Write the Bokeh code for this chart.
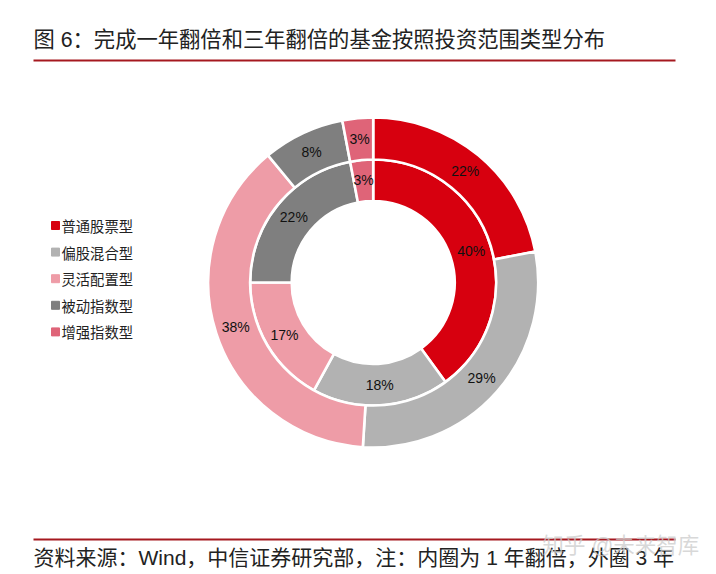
import math
from bokeh.plotting import figure
from bokeh.models import ColumnDataSource, Range1d
from bokeh.core.properties import value
from bokeh.embed import file_html
from bokeh.resources import INLINE

title = "图 6：完成一年翻倍和三年翻倍的基金按照投资范围类型分布"
note = "资料来源：Wind，中信证券研究部，注：内圈为 1 年翻倍，外圈 3 年"
watermark = "知乎 @未来智库"
categories = ["普通股票型", "偏股混合型", "灵活配置型", "被动指数型", "增强指数型"]
inner_values = [40, 18, 17, 22, 3]
outer_values = [22, 29, 38, 8, 3]
colors = ["#D7000F", "#B2B2B2", "#EE9CA7", "#7F7F7F", "#DF6478"]

W, H = 716, 574
CJK = "Liberation Sans, 'Noto Sans CJK SC'"
CX, CY = 372.7, H - 282

def ring_source(values, label_r):
    total = sum(values)
    starts, ends, lx, ly, labels = [], [], [], [], []
    cum = 0
    for v in values:
        a0 = math.pi / 2 - 2 * math.pi * cum / total
        a1 = math.pi / 2 - 2 * math.pi * (cum + v) / total
        mid = (a0 + a1) / 2
        starts.append(a0)
        ends.append(a1)
        lx.append(CX + label_r * math.cos(mid))
        ly.append(CY + label_r * math.sin(mid))
        labels.append("%d%%" % v)
        cum += v
    return ColumnDataSource(data=dict(start=starts, end=ends, lx=lx, ly=ly, label=labels, color=colors))

p = figure(width=W, height=H, output_backend="svg", toolbar_location=None,
           x_range=Range1d(0, W), y_range=Range1d(0, H), min_border=0)
p.axis.visible = False
p.grid.visible = False
p.outline_line_color = None
p.background_fill_color = "white"

inner = ring_source(inner_values, 103)
outer = ring_source(outer_values, 144.5)

for src, r0, r1 in [(inner, 81.5, 123), (outer, 123, 165)]:
    p.annular_wedge(x=CX, y=CY, inner_radius=r0, outer_radius=r1,
                    start_angle="end", end_angle="start", fill_color="color",
                    line_color="white", line_width=2.6, source=src)
    p.text(x="lx", y="ly", text="label", source=src, text_align="center", text_baseline="middle",
           text_font=value("Liberation Sans"), text_font_size="14px", text_color="#111111")

# title and footer rules
for y in [60, 539]:
    p.line(x=[33, 675], y=[H - y, H - y], line_color="#A5191F", line_width=2)

p.text(x=[33], y=[H - 39], text=[title], text_baseline="middle", text_font=value(CJK),
       text_font_size="21.3px", text_color="#222222")
p.text(x=[33], y=[H - 557], text=[note], text_baseline="middle", text_font=value(CJK),
       text_font_size="21px", text_color="#222222")

# legend
legend_y = [H - (225 + 26.6 * i) for i in range(len(categories))]
p.scatter(x=[55] * len(categories), y=legend_y, marker="square", size=8, color=colors)
p.text(x=[61] * len(categories), y=legend_y, text=categories, text_baseline="middle",
       text_font=value("Noto Sans CJK SC"), text_font_size="14.3px", text_color="#222222")

p.text(x=[542], y=[H - 545], text=[watermark], text_baseline="middle", text_font=value(CJK),
       text_font_size="21.5px", text_color="#cccccc", text_alpha=0.75)

open("out.html", "w").write(file_html(p, INLINE))
